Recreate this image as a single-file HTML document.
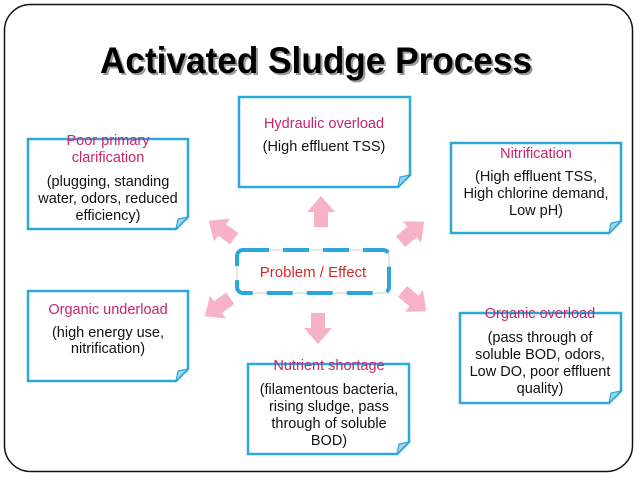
<!DOCTYPE html>
<html><head><meta charset="utf-8"><style>
html,body{margin:0;padding:0;background:#fff;width:638px;height:479px;overflow:hidden}
svg{display:block}
text{font-family:"Liberation Sans",sans-serif;font-size:14.5px;text-anchor:middle}
.t{fill:#c8246e}
.b{fill:#111}
.box{fill:#fff;stroke:#2aaad8;stroke-width:2.5}
.fold{fill:#9fd3ec;stroke:#2aaad8;stroke-width:1.2}
.ar{fill:#f7b2c6}
</style></head><body>
<svg width="638" height="479" viewBox="0 0 638 479">
<rect x="4.5" y="4.5" width="628" height="467" rx="26" fill="#fff" stroke="#111" stroke-width="1.5"/>
<text x="316" y="73" textLength="432" lengthAdjust="spacingAndGlyphs" style="font-size:37px;font-weight:bold;fill:#999" transform="translate(2,2)">Activated Sludge Process</text>
<text x="316" y="73" textLength="432" lengthAdjust="spacingAndGlyphs" style="font-size:37px;font-weight:bold;fill:#000">Activated Sludge Process</text>

<defs>
<path id="a" d="M0,-16 L14,0 L7,0 L7,15 L-7,15 L-7,0 L-14,0 Z"/>
</defs>
<use href="#a" class="ar" transform="translate(321,212)"/>
<use href="#a" class="ar" transform="translate(222,230) rotate(-55)"/>
<use href="#a" class="ar" transform="translate(412,232) rotate(50)"/>
<use href="#a" class="ar" transform="translate(218,307) rotate(-125)"/>
<use href="#a" class="ar" transform="translate(318,328) rotate(180)"/>
<use href="#a" class="ar" transform="translate(414,301) rotate(130)"/>

<rect x="237" y="250" width="152" height="43" rx="6" fill="#fff" stroke="#ccc" stroke-width="1"/>
<rect x="237" y="250" width="152" height="43" rx="6" fill="none" stroke="#2aa8dc" stroke-width="4" stroke-dasharray="26,14"/>
<text x="313" y="277" style="font-size:15px;fill:#d42a2a">Problem / Effect</text>

<g>
<path class="box" d="M239,97 H410 V175 L398,187 H239 Z"/><path class="fold" d="M398,187 L400,177 L410,175 Z"/>
<text class="t" x="324" y="128">Hydraulic overload</text>
<text class="b" x="324" y="151">(High effluent TSS)</text>
</g>
<g>
<path class="box" d="M28,139 H188 V217 L176,229 H28 Z"/><path class="fold" d="M176,229 L178,219 L188,217 Z"/>
<text class="t" x="108" y="145">Poor primary</text>
<text class="t" x="108" y="162">clarification</text>
<text class="b" x="108" y="186">(plugging, standing</text>
<text class="b" x="108" y="203">water, odors, reduced</text>
<text class="b" x="108" y="220">efficiency)</text>
</g>
<g>
<path class="box" d="M451,143 H621 V221 L609,233 H451 Z"/><path class="fold" d="M609,233 L611,223 L621,221 Z"/>
<text class="t" x="536" y="158">Nitrification</text>
<text class="b" x="536" y="181">(High effluent TSS,</text>
<text class="b" x="536" y="198">High chlorine demand,</text>
<text class="b" x="536" y="215">Low pH)</text>
</g>
<g>
<path class="box" d="M28,291 H188 V369 L176,381 H28 Z"/><path class="fold" d="M176,381 L178,371 L188,369 Z"/>
<text class="t" x="108" y="314">Organic underload</text>
<text class="b" x="108" y="337">(high energy use,</text>
<text class="b" x="108" y="353">nitrification)</text>
</g>
<g>
<path class="box" d="M460,313 H621 V391 L609,403 H460 Z"/><path class="fold" d="M609,403 L611,393 L621,391 Z"/>
<text class="t" x="540" y="318">Organic overload</text>
<text class="b" x="540" y="342">(pass through of</text>
<text class="b" x="540" y="359">soluble BOD, odors,</text>
<text class="b" x="540" y="376">Low DO, poor effluent</text>
<text class="b" x="540" y="393">quality)</text>
</g>
<g>
<path class="box" d="M248,364 H409 V442 L397,454 H248 Z"/><path class="fold" d="M397,454 L399,444 L409,442 Z"/>
<text class="t" x="329" y="370">Nutrient shortage</text>
<text class="b" x="329" y="394">(filamentous bacteria,</text>
<text class="b" x="329" y="411">rising sludge, pass</text>
<text class="b" x="329" y="428">through of soluble</text>
<text class="b" x="329" y="445">BOD)</text>
</g>
</svg>
</body></html>
